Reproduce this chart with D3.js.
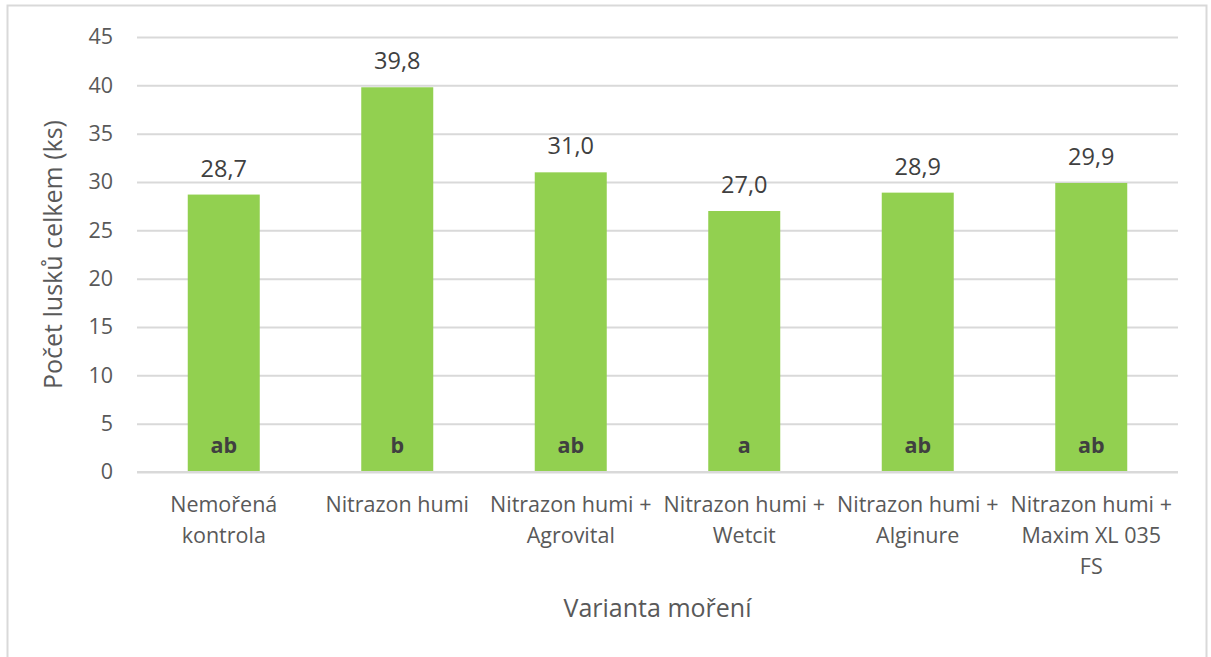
<!DOCTYPE html>
<html>
<head>
<meta charset="utf-8">
<script src="https://cdn.jsdelivr.net/npm/d3@7"></script>
<style>
  body { margin: 0; background: #fff; }
  svg { display: block; }
</style>
</head>
<body>
<div id="chart"></div>
<script>
// chart data
var categories = [
  ["Nemořená", "kontrola"],
  ["Nitrazon humi"],
  ["Nitrazon humi +", "Agrovital"],
  ["Nitrazon humi +", "Wetcit"],
  ["Nitrazon humi +", "Alginure"],
  ["Nitrazon humi +", "Maxim XL 035", "FS"]
];
var values = [28.7, 39.8, 31.0, 27.0, 28.9, 29.9];
var letters = ["ab", "b", "ab", "a", "ab", "ab"];
var yTicks = [0, 5, 10, 15, 20, 25, 30, 35, 40, 45];

var W = 1211, H = 657;
var margin = {left: 137, right: 33, top: 37, bottom: 185};
var textColor = "#595959";
var font = "'Open Sans', 'Noto Sans', sans-serif";

var czech = d3.formatLocale({decimal: ",", thousands: " ", grouping: [3], currency: ["", " Kč"]});
var fmt = czech.format(".1f");

var svg = d3.select("#chart").append("svg")
    .attr("width", W)
    .attr("height", H);

// outer chart border
svg.append("rect")
    .attr("x", 7.5).attr("y", 5.5)
    .attr("width", 1199).attr("height", 700)
    .style("fill", "#fff")
    .style("stroke", "#d9d9d9")
    .style("stroke-width", 2);

var x = d3.scaleBand()
    .domain(d3.range(categories.length))
    .range([margin.left, W - margin.right])
    .paddingInner(0.585)
    .paddingOuter(0.2925);

var y = d3.scaleLinear()
    .domain([0, 45])
    .range([H - margin.bottom, margin.top]);

// gridlines + y labels
var yAxis = d3.axisLeft(y)
    .tickValues(yTicks)
    .tickSize(-(W - margin.right - margin.left))
    .tickPadding(24)
    .tickFormat(d3.format("d"));

var gy = svg.append("g")
    .attr("transform", "translate(" + margin.left + ",0)")
    .call(yAxis);
gy.select(".domain").remove();
gy.selectAll(".tick line")
    .style("stroke", "#d9d9d9")
    .style("stroke-width", 2);
gy.selectAll(".tick text")
    .style("fill", textColor)
    .style("font-family", font)
    .style("font-size", "21.5px");

// bars
svg.selectAll(".bar")
    .data(values)
    .enter()
    .append("rect")
    .attr("class", "bar")
    .attr("x", function(d, i) { return x(i); })
    .attr("y", function(d) { return y(d); })
    .attr("width", x.bandwidth())
    .attr("height", function(d) { return y(0) - y(d); })
    .style("fill", "#92d050");

// baseline drawn over bars
svg.append("line")
    .attr("x1", margin.left).attr("x2", W - margin.right)
    .attr("y1", y(0)).attr("y2", y(0))
    .style("stroke", "#d9d9d9")
    .style("stroke-width", 2);

// value labels
svg.selectAll(".val")
    .data(values)
    .enter()
    .append("text")
    .attr("class", "val")
    .attr("x", function(d, i) { return x(i) + x.bandwidth() / 2; })
    .attr("y", function(d) { return y(d) - 18; })
    .attr("text-anchor", "middle")
    .style("fill", "#404040")
    .style("font-family", font)
    .style("font-size", "23.5px")
    .text(function(d) { return fmt(d); });

// significance letters
svg.selectAll(".sig")
    .data(letters)
    .enter()
    .append("text")
    .attr("class", "sig")
    .attr("x", function(d, i) { return x(i) + x.bandwidth() / 2; })
    .attr("y", y(0) - 19)
    .attr("text-anchor", "middle")
    .style("fill", "#404040")
    .style("font-family", font)
    .style("font-weight", "bold")
    .style("font-size", "21.5px")
    .text(function(d) { return d; });

// category labels
var cat = svg.selectAll(".cat")
    .data(categories)
    .enter()
    .append("text")
    .attr("class", "cat")
    .attr("text-anchor", "middle")
    .style("fill", textColor)
    .style("font-family", font)
    .style("font-size", "21.5px");

cat.each(function(lines, i) {
  var t = d3.select(this);
  lines.forEach(function(l, j) {
    t.append("tspan")
      .attr("x", x(i) + x.bandwidth() / 2)
      .attr("y", 512 + j * 31)
      .text(l);
  });
});

// axis titles
svg.append("text")
    .attr("x", (margin.left + W - margin.right) / 2)
    .attr("y", 617)
    .attr("text-anchor", "middle")
    .style("fill", textColor)
    .style("font-family", font)
    .style("font-size", "25px")
    .text("Varianta moření");

svg.append("text")
    .attr("transform", "translate(62," + (y(22.5)) + ") rotate(-90)")
    .attr("text-anchor", "middle")
    .style("fill", textColor)
    .style("font-family", font)
    .style("font-size", "25px")
    .text("Počet lusků celkem (ks)");
</script>
</body>
</html>
